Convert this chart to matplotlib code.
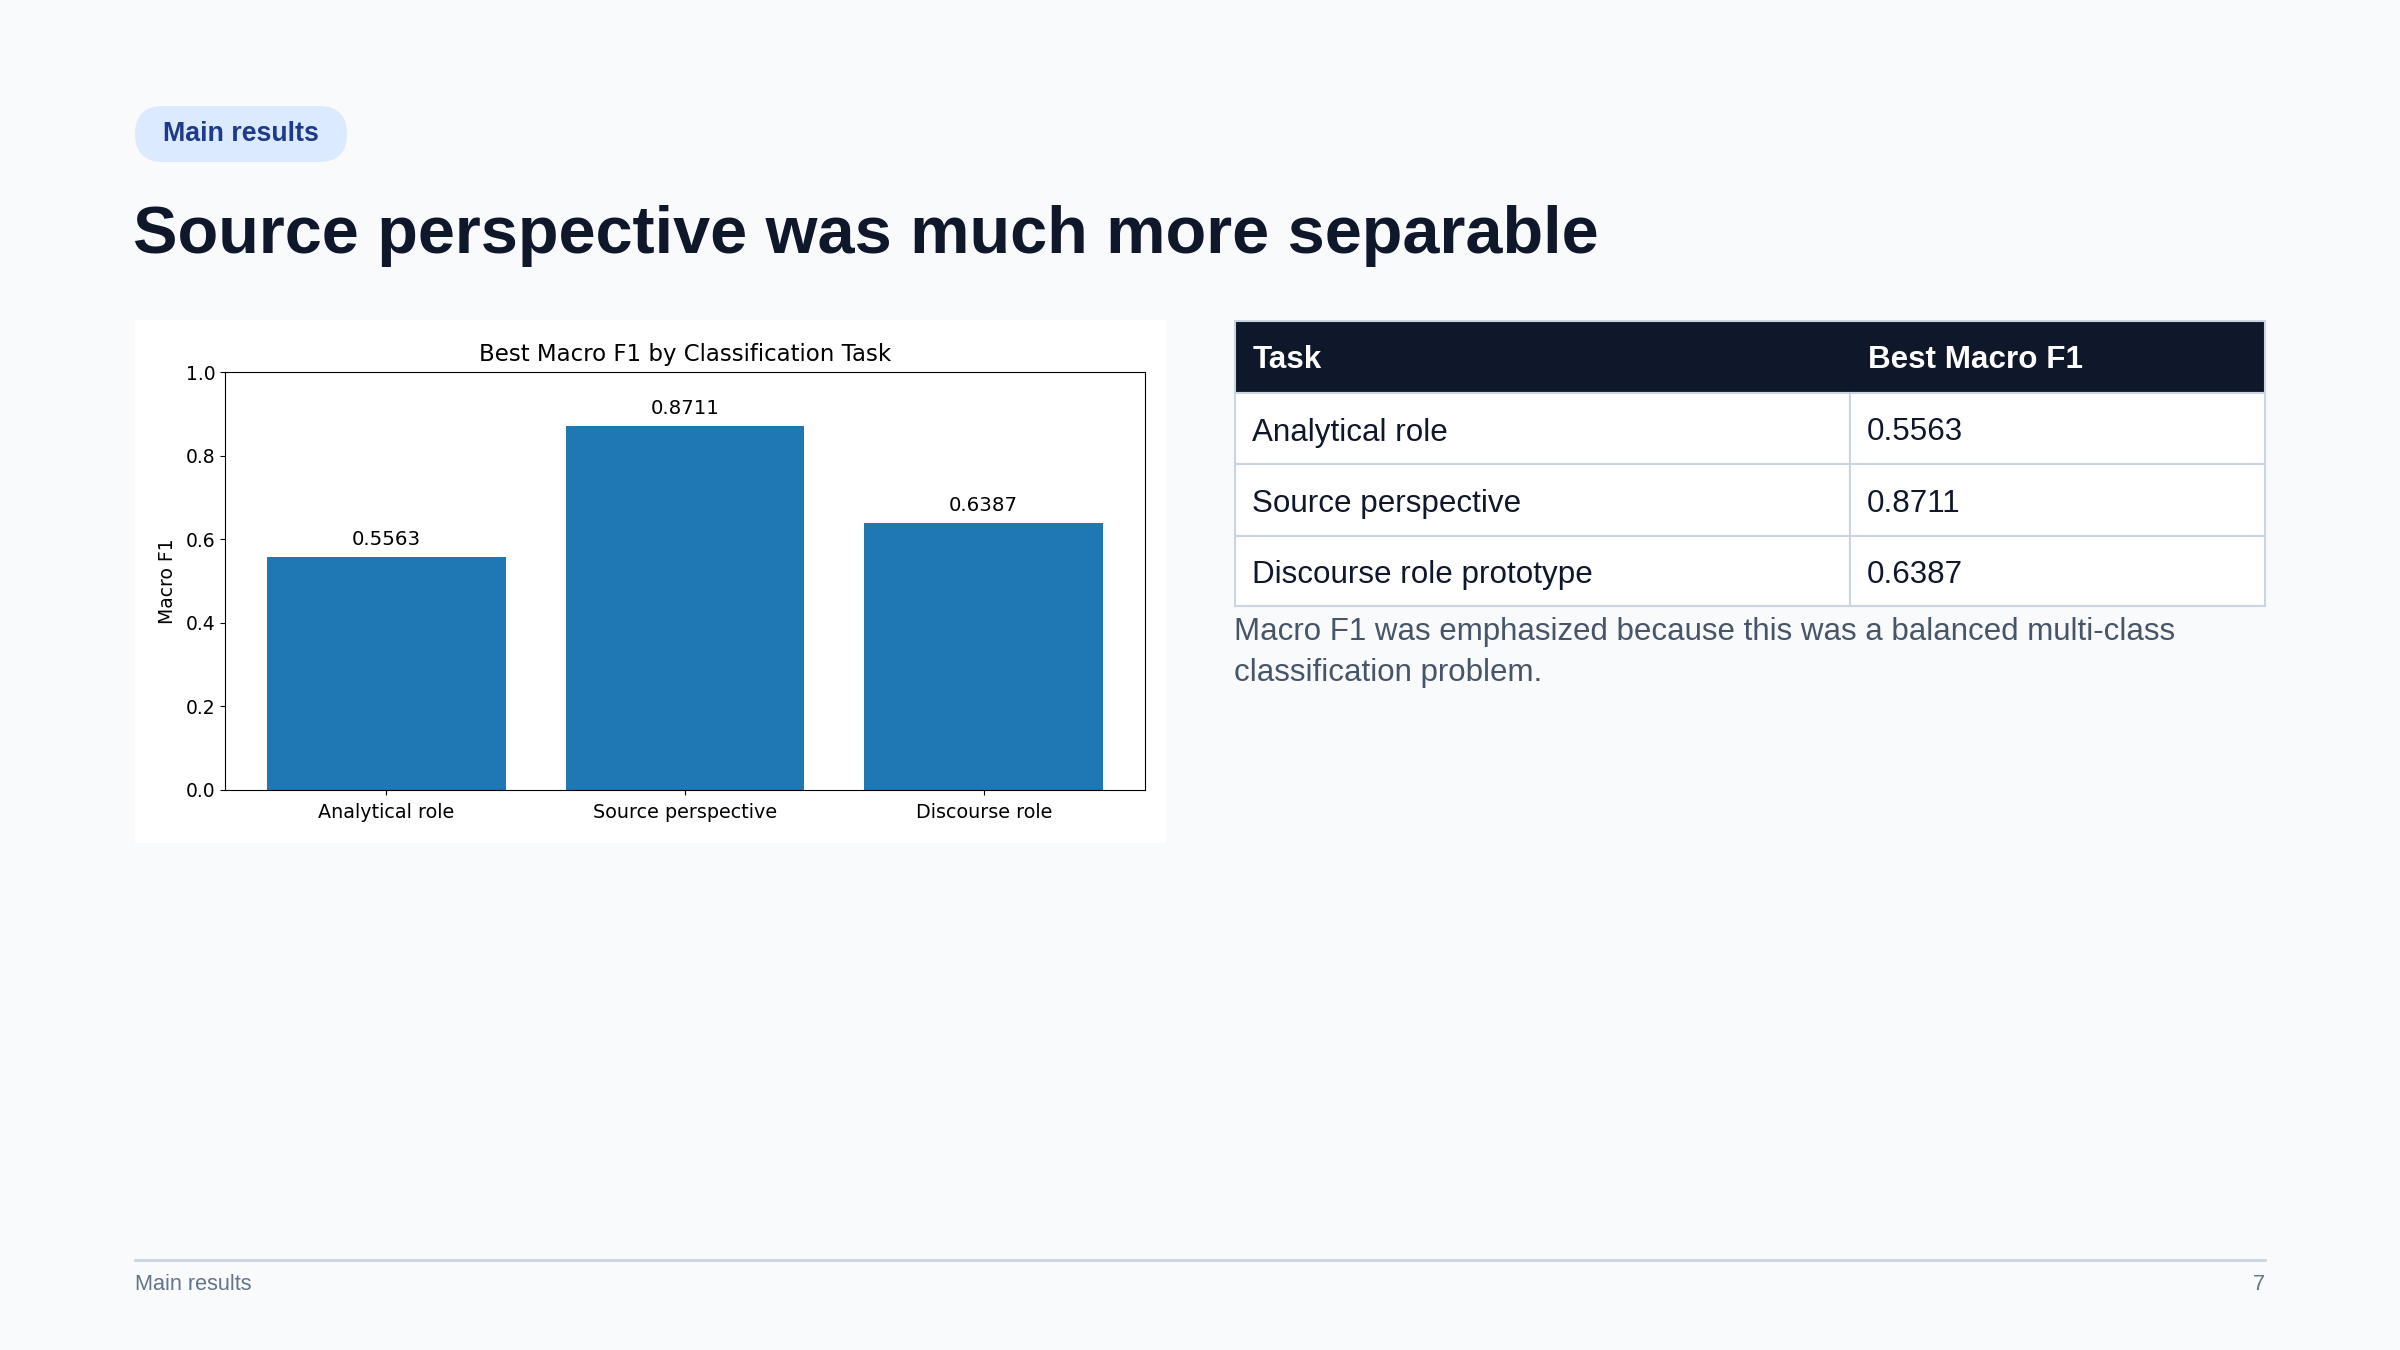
import matplotlib.pyplot as plt
from matplotlib.patches import Rectangle, FancyBboxPatch

# data
chart_labels = ["Analytical role", "Source perspective", "Discourse role"]
table_tasks = ["Analytical role", "Source perspective", "Discourse role prototype"]
macro_f1 = [0.5563, 0.8711, 0.6387]
table_header = ["Task", "Best Macro F1"]

BG = "#f8fafc"
DARK = "#0f172a"
SLIDE_FONT = ["Liberation Sans", "DejaVu Sans"]

fig = plt.figure(figsize=(24, 13.5), dpi=100, facecolor=BG)

# overlay axes in pixel coords (y down)
ov = fig.add_axes([0, 0, 1, 1], zorder=0)
ov.set_xlim(0, 2400)
ov.set_ylim(1350, 0)
ov.axis("off")

# badge
ov.add_patch(FancyBboxPatch((135, 106), 212, 56,
                            boxstyle="round,pad=0,rounding_size=28",
                            fc="#dbeafe", ec="none"))
ov.text(241, 134, "Main results", ha="center", va="center", fontsize=19.3,
        fontweight="bold", color="#1e3a8a", family=SLIDE_FONT)

# slide title
ov.text(133, 236, "Source perspective was much more separable", ha="left",
        va="center", fontsize=48, fontweight="bold", color=DARK, family=SLIDE_FONT)

# chart card background
ov.add_patch(Rectangle((135, 320), 1031, 523, fc="white", ec="none"))

# table
tx0, tx1, tsplit = 1235, 2265, 1850
ty = [321, 393, 464, 536, 606]
ov.add_patch(Rectangle((tx0, ty[0]), tx1 - tx0, ty[1] - ty[0], fc=DARK, ec="#cbd5e1", lw=1.5))
ov.text(tx0 + 18, (ty[0] + ty[1]) / 2 + 3, table_header[0], ha="left", va="center",
        fontsize=22.6, fontweight="bold", color="white", family=SLIDE_FONT)
ov.text(tsplit + 18, (ty[0] + ty[1]) / 2 + 3, table_header[1], ha="left", va="center",
        fontsize=22.6, fontweight="bold", color="white", family=SLIDE_FONT)
for i, (task, val) in enumerate(zip(table_tasks, macro_f1)):
    y0, y1 = ty[i + 1], ty[i + 2]
    ov.add_patch(Rectangle((tx0, y0), tsplit - tx0, y1 - y0, fc="white", ec="#cbd5e1", lw=1.5))
    ov.add_patch(Rectangle((tsplit, y0), tx1 - tsplit, y1 - y0, fc="white", ec="#cbd5e1", lw=1.5))
    ov.text(tx0 + 17, (y0 + y1) / 2 + 4, task, ha="left", va="center",
            fontsize=22.6, color=DARK, family=SLIDE_FONT)
    ov.text(tsplit + 17, (y0 + y1) / 2 + 4, f"{val:.4f}", ha="left", va="center",
            fontsize=22.6, color=DARK, family=SLIDE_FONT)

ov.text(1234, 632, "Macro F1 was emphasized because this was a balanced multi-class",
        ha="left", va="center", fontsize=22.5, color="#475569", family=SLIDE_FONT)
ov.text(1234, 673, "classification problem.",
        ha="left", va="center", fontsize=22.5, color="#475569", family=SLIDE_FONT)

# footer
ov.plot([135, 2265], [1260, 1260], color="#cbd5e1", lw=2)
ov.text(135, 1285, "Main results", ha="left", va="center", fontsize=15.6,
        color="#64748b", family=SLIDE_FONT)
ov.text(2265, 1285, "7", ha="right", va="center", fontsize=15.6,
        color="#64748b", family=SLIDE_FONT)

# bar chart
ax = fig.add_axes([225 / 2400, 1 - 790 / 1350, 920 / 2400, 418 / 1350], zorder=1)
bars = ax.bar(chart_labels, macro_f1, color="#1f77b4", width=0.8)
ax.bar_label(bars, labels=[f"{v:.4f}" for v in macro_f1], padding=6, fontsize=14.2)
ax.set_ylim(0, 1.0)
ax.set_title("Best Macro F1 by Classification Task", fontsize=16.5, pad=8)
ax.set_ylabel("Macro F1", fontsize=13.5, labelpad=6)
ax.tick_params(axis="x", labelsize=13.8, pad=6)
ax.tick_params(axis="y", labelsize=13.5)

fig.savefig("out.png", dpi=100, facecolor=BG)
